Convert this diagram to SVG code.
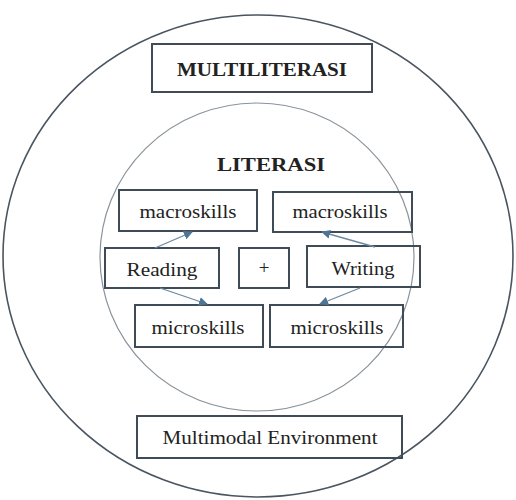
<svg xmlns="http://www.w3.org/2000/svg" width="516" height="500" viewBox="0 0 516 500">
<style>
.box{fill:none;stroke:#3f4b57;stroke-width:2}
.t{font-family:"Liberation Serif","Times New Roman",serif;font-size:19px;fill:#222;text-anchor:middle}
.b{font-weight:bold}
.arr{stroke:#6a8aa3;stroke-width:1.3;fill:none;marker-end:url(#ah)}
</style>
<defs>
<marker id="ah" viewBox="0 0 10 10" refX="9" refY="5" markerWidth="9" markerHeight="9" markerUnits="userSpaceOnUse" orient="auto">
<path d="M0,0 L10,5 L0,10 z" fill="#4f7593"/>
</marker>
</defs>
<rect width="516" height="500" fill="#fff"/>
<g id="outer"><ellipse cx="258" cy="256" rx="255" ry="241" fill="none" stroke="#4a5560" stroke-width="1.6"/></g>
<g id="inner"><ellipse cx="257" cy="257" rx="157" ry="154" fill="none" stroke="#8a939b" stroke-width="1.2"/></g>
<g id="multiliterasi"><rect class="box" x="152" y="44" width="220" height="48"/><text class="t b" x="262" y="76" textLength="170" lengthAdjust="spacingAndGlyphs">MULTILITERASI</text></g>
<g id="literasi"><text class="t b" x="271" y="171" font-size="20" textLength="108" lengthAdjust="spacingAndGlyphs">LITERASI</text></g>
<g id="macro-left"><rect class="box" x="119" y="190" width="138" height="41"/><text class="t" x="188" y="218" textLength="97" lengthAdjust="spacingAndGlyphs">macroskills</text></g>
<g id="macro-right"><rect class="box" x="273" y="192" width="139" height="40"/><text class="t" x="340" y="218" textLength="95" lengthAdjust="spacingAndGlyphs">macroskills</text></g>
<g id="reading"><rect class="box" x="105" y="248" width="114" height="40"/><text class="t" x="162" y="276" textLength="71" lengthAdjust="spacingAndGlyphs">Reading</text></g>
<g id="plus"><rect class="box" x="239" y="248" width="50" height="40"/><text class="t" x="264" y="274" font-size="16">+</text></g>
<g id="writing"><rect class="box" x="307" y="246" width="113" height="41"/><text class="t" x="363" y="275" textLength="63" lengthAdjust="spacingAndGlyphs">Writing</text></g>
<g id="micro-left"><rect class="box" x="135" y="305" width="128" height="42"/><text class="t" x="198" y="334" textLength="93" lengthAdjust="spacingAndGlyphs">microskills</text></g>
<g id="micro-right"><rect class="box" x="270" y="305" width="133" height="42"/><text class="t" x="337" y="334" textLength="93" lengthAdjust="spacingAndGlyphs">microskills</text></g>
<g id="multimodal"><rect class="box" x="137" y="416" width="265" height="42"/><text class="t" x="270" y="444" textLength="215" lengthAdjust="spacingAndGlyphs">Multimodal Environment</text></g>
<g id="connectors">
<line class="arr" x1="155" y1="248" x2="192" y2="232"/>
<line class="arr" x1="375" y1="247" x2="322" y2="232"/>
<line class="arr" x1="160" y1="288" x2="207" y2="304"/>
<line class="arr" x1="360" y1="288" x2="320" y2="304"/>
</g>
</svg>
